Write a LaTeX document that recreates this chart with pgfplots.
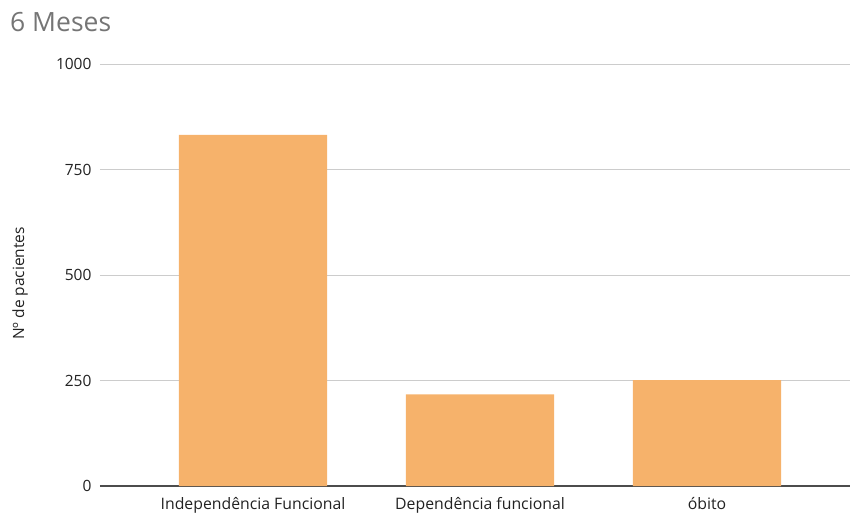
\documentclass[border=0pt]{standalone}
\usepackage{pgfplots}
\pgfplotsset{compat=1.18}
\usepackage{fontspec}
\setmainfont{Open Sans}
\definecolor{barc}{HTML}{F6B26B}
\definecolor{gridc}{HTML}{CCCCCC}
\definecolor{txt}{HTML}{222222}
\definecolor{ttl}{HTML}{757575}
\begin{document}
\begin{tikzpicture}
\begin{axis}[
  name=ax, at={(0,0)}, anchor=south west,
  scale only axis, width=750pt, height=422pt,
  xmin=-0.674, xmax=2.630, ymin=0, ymax=1000,
  ytick={0,250,500,750,1000},
  xtick={0,1,2},
  xticklabels={Independência Funcional, Dependência funcional, óbito},
  axis line style={draw=none},
  major tick length=0pt,
  ymajorgrids, grid style={gridc, line width=0.8pt},
  extra y ticks={0}, extra y tick labels={},
  extra y tick style={grid style={color=black!70, line width=1.2pt}},
  /pgf/number format/assume math mode=true,
  /pgf/number format/1000 sep={},
  yticklabel style={font=\fontsize{15.5}{18}\selectfont, text=txt, xshift=-5pt},
  xticklabel style={font=\fontsize{15.8}{18}\selectfont, text=txt, yshift=-7.5pt},
  ylabel={Nº de pacientes},
  ylabel style={font=\fontsize{15.5}{18}\selectfont, text=txt, at={(axis description cs:-0.1173,0.48)}, anchor=north, inner sep=0pt, rotate=0},
  clip=false,
]
\addplot[ybar, bar width=0.652, fill=barc, draw=none] coordinates {(0,832) (1,217) (2,251)};
\end{axis}
\node[anchor=base west, text=ttl, font=\fontsize{26.5}{30}\selectfont, inner sep=0] at ([shift={(-90pt,454pt)}]ax.south west) {6 Meses};
\pgfresetboundingbox
\path[use as bounding box] ([shift={(-100pt,-29pt)}]ax.south west) rectangle ([shift={(750pt,486pt)}]ax.south west);
\end{tikzpicture}
\end{document}
